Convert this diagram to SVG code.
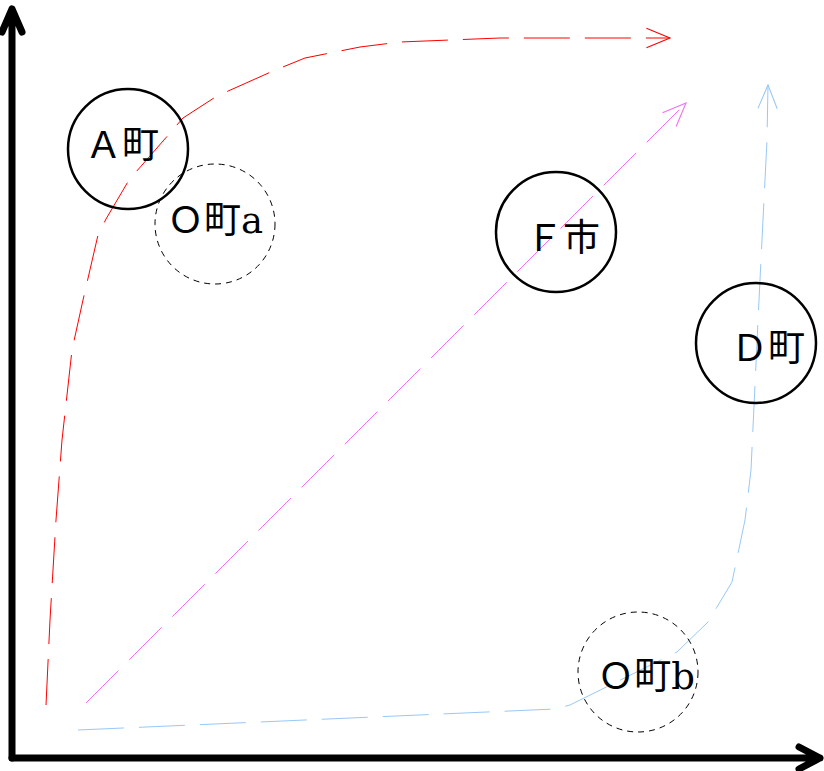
<svg xmlns="http://www.w3.org/2000/svg" width="824" height="771" viewBox="0 0 824 771">
<style>
.axis{fill:none;stroke:#000;stroke-width:7;stroke-linecap:round;stroke-linejoin:round}
.node{fill:none;stroke:#000;stroke-width:2.5}
.dnode{fill:none;stroke:#000;stroke-width:1;stroke-dasharray:6 5}
.lbl{font-family:"DejaVu Serif","Noto Sans CJK JP",serif;fill:#000;font-size:37px;text-anchor:middle}
.conn{fill:none;stroke-width:1;stroke-dasharray:46 15}
</style>
<defs>
<marker id="mr" markerUnits="userSpaceOnUse" markerWidth="30" markerHeight="30" viewBox="-25 -12 28 24" refX="0" refY="0" orient="auto"><path d="M-22,-9 L0,0 L-22,9" fill="none" stroke="#ff0000" stroke-width="1"/></marker>
<marker id="mm" markerUnits="userSpaceOnUse" markerWidth="30" markerHeight="30" viewBox="-25 -12 28 24" refX="0" refY="0" orient="auto"><path d="M-22,-9 L0,0 L-22,9" fill="none" stroke="#f070f0" stroke-width="1"/></marker>
<marker id="mb" markerUnits="userSpaceOnUse" markerWidth="30" markerHeight="30" viewBox="-25 -12 28 24" refX="0" refY="0" orient="auto"><path d="M-22,-9 L0,0 L-22,9" fill="none" stroke="#99c8f5" stroke-width="1"/></marker>
</defs>
<g id="axes">
<path class="axis" d="M12,758 L12,9 M2,32 L12,9 L22,32"/>
<path class="axis" d="M12,758 L820,758 M799,747 L820,758 L799,769"/>
</g>
<g id="connectors">
<path class="conn" stroke="#ff0000" marker-end="url(#mr)" d="M46,705 L50,620 L56,520 L62,440 L72,350 L83,300 L98,235 L106,219 L129,180 L170,133 L183,118 L217,96 L273,71 L305,58 L360,47 L400,42 L500,38 L670,38"/>
<path class="conn" stroke="#f070f0" marker-end="url(#mm)" d="M86,703 L686,103"/>
<path class="conn" stroke="#99c8f5" marker-end="url(#mb)" d="M78,730 L555,709 L570,705 L677,652 L708,622 L732,582 L745,520 L751,470 L759,300 L767,140 L768,85"/>
</g>
<g id="nodeA"><circle class="node" cx="128" cy="149" r="60"/><text class="lbl" x="122" y="158">Ａ町</text></g>
<g id="nodeOa"><circle class="dnode" cx="215" cy="224" r="60"/><text class="lbl" x="215" y="233">Ｏ町a</text></g>
<g id="nodeF"><circle class="node" cx="556" cy="232" r="60"/><text class="lbl" x="563" y="251">Ｆ市</text></g>
<g id="nodeD"><circle class="node" cx="756" cy="343" r="60"/><text class="lbl" x="768" y="361">Ｄ町</text></g>
<g id="nodeOb"><circle class="dnode" cx="638" cy="672" r="60"/><text class="lbl" x="646" y="689">Ｏ町b</text></g>
</svg>
